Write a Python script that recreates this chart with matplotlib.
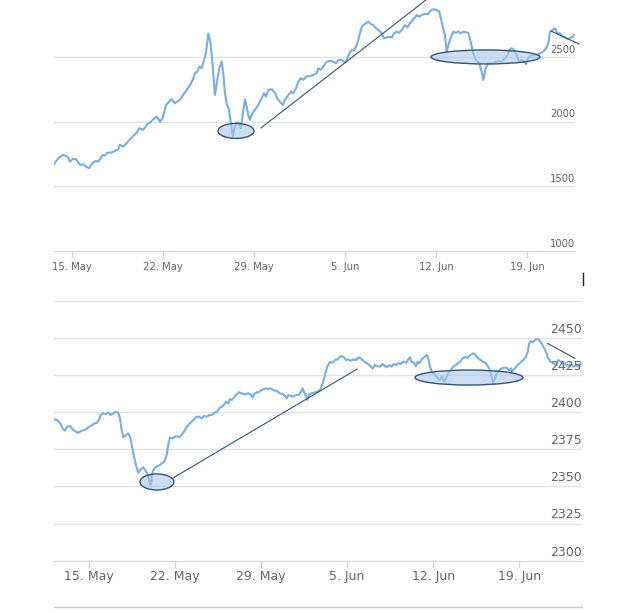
import matplotlib
matplotlib.use("Agg")
import matplotlib.pyplot as plt
import matplotlib.dates as mdates
import matplotlib.transforms as mtransforms
from matplotlib.patches import Ellipse
from matplotlib.lines import Line2D
import pandas as pd

# all x values are days counted from 15 May 2017
start = pd.Timestamp("2017-05-15")

# top chart (wide scale)
top_days = [
    -1.36, -1.03, -0.65, -0.34, -0.13, 0.08, 0.33, 0.64, 0.89, 1.10,
    1.35, 1.58, 1.84, 2.04, 2.38, 2.56, 2.74, 3.07, 3.33, 3.58,
    3.71, 3.97, 4.27, 4.48, 4.73, 5.00, 5.20, 5.50, 5.81, 6.02,
    6.27, 6.53, 6.79, 6.99, 7.25, 7.42, 7.69, 7.94, 8.19, 8.32,
    8.58, 8.84, 9.09, 9.30, 9.48, 9.65, 9.81, 9.99, 10.17, 10.32,
    10.50, 10.68, 10.84, 11.01, 11.19, 11.35, 11.53, 11.65, 11.78, 11.91,
    12.09, 12.24, 12.38, 12.50, 12.63, 12.73, 12.88, 13.01, 13.14, 13.32,
    13.45, 13.57, 13.70, 13.88, 14.09, 14.34, 14.60, 14.78, 14.93, 15.11,
    15.37, 15.63, 15.80, 16.01, 16.22, 16.39, 16.65, 16.86, 17.03, 17.24,
    17.42, 17.60, 17.80, 18.01, 18.32, 18.57, 18.83, 18.95, 19.14, 19.34,
    19.60, 19.85, 20.11, 20.32, 20.49, 20.75, 21.01, 21.14, 21.34, 21.52,
    21.70, 21.91, 22.03, 22.16, 22.29, 22.41, 22.60, 22.80, 22.98, 23.18,
    23.39, 23.57, 23.83, 24.00, 24.21, 24.41, 24.60, 24.77, 24.98, 25.16,
    25.37, 25.62, 25.80, 26.00, 26.21, 26.39, 26.52, 26.69, 26.90, 27.16,
    27.41, 27.62, 27.85, 28.06, 28.26, 28.52, 28.69, 28.82, 28.95, 29.13,
    29.33, 29.54, 29.72, 29.90, 30.10, 30.31, 30.48, 30.67, 30.87, 31.08,
    31.33, 31.51, 31.64, 31.82, 32.02, 32.28, 32.54, 32.79, 33.05, 33.25,
    33.44, 33.64, 33.82, 34.00, 34.20, 34.40, 34.59, 34.77, 34.92, 35.02,
    35.18, 35.43, 35.74, 36.00, 36.25, 36.46, 36.63, 36.77, 36.97, 37.15,
    37.33, 37.54, 37.74, 37.92, 38.17, 38.43, 38.61,
]
top_price = [
    1674, 1718, 1743, 1730, 1692, 1712, 1710, 1666, 1671, 1653,
    1641, 1679, 1697, 1692, 1743, 1738, 1761, 1761, 1774, 1787,
    1820, 1807, 1838, 1864, 1889, 1915, 1949, 1936, 1979, 1992,
    2018, 2038, 2000, 2026, 2128, 2146, 2172, 2141, 2161, 2167,
    2205, 2244, 2282, 2321, 2372, 2384, 2423, 2411, 2475, 2526,
    2680, 2603, 2423, 2205, 2321, 2411, 2462, 2372, 2218, 2141,
    2090, 1987, 1884, 1949, 1982, 1992, 1982, 1949, 2051, 2172,
    2115, 2051, 2013, 2064, 2090, 2128, 2180, 2218, 2192, 2244,
    2249, 2218, 2180, 2153, 2128, 2167, 2205, 2230, 2218, 2257,
    2307, 2334, 2321, 2346, 2351, 2359, 2372, 2411, 2398, 2423,
    2462, 2469, 2462, 2449, 2475, 2475, 2454, 2475, 2526, 2552,
    2546, 2590, 2629, 2680, 2726, 2744, 2757, 2770, 2752, 2744,
    2719, 2706, 2680, 2642, 2649, 2654, 2649, 2680, 2693, 2685,
    2706, 2744, 2726, 2757, 2783, 2803, 2821, 2808, 2821, 2829,
    2829, 2860, 2865, 2860, 2847, 2731, 2667, 2539, 2590, 2642,
    2693, 2685, 2693, 2680, 2693, 2688, 2685, 2616, 2526, 2475,
    2449, 2385, 2321, 2411, 2449, 2449, 2454, 2469, 2462, 2480,
    2500, 2552, 2565, 2552, 2513, 2462, 2475, 2462, 2444, 2475,
    2500, 2513, 2513, 2526, 2539, 2565, 2603, 2693, 2706, 2719,
    2680, 2680, 2654, 2649, 2634, 2649, 2667,
]
top_ticks = [1000, 1500, 2000, 2500]

# bottom chart (zoomed scale)
bottom_days = [
    -2.87, -2.61, -2.39, -2.17, -1.98, -1.79, -1.57, -1.35, -1.08, -0.90,
    -0.62, -0.35, -0.08, 0.20, 0.46, 0.65, 0.81, 0.93, 1.14, 1.36,
    1.55, 1.74, 1.95, 2.17, 2.36, 2.50, 2.64, 2.77, 2.99, 3.18,
    3.37, 3.58, 3.80, 3.99, 4.19, 4.40, 4.59, 4.76, 4.89, 5.00,
    5.16, 5.35, 5.54, 5.76, 5.98, 6.16, 6.30, 6.43, 6.57, 6.79,
    7.06, 7.33, 7.52, 7.71, 7.93, 8.20,
    8.47, 8.75, 8.96, 9.15, 9.34, 9.56, 9.77, 9.97, 10.24, 10.42,
    10.59, 10.78, 10.97, 11.13, 11.32, 11.46, 11.60, 11.78, 12.00, 12.21,
    12.41, 12.68, 12.95, 13.14, 13.31, 13.41, 13.63, 13.84, 14.04, 14.23,
    14.39, 14.58, 14.77, 14.98, 15.26, 15.53, 15.75, 15.94, 16.07, 16.21,
    16.40, 16.61, 16.83, 17.02, 17.21, 17.38, 17.48, 17.65, 17.75, 17.92,
    18.11, 18.38, 18.57, 18.79,
    19.01, 19.19, 19.38, 19.60, 19.82, 20.01, 20.20, 20.36, 20.55, 20.74,
    20.90, 21.09, 21.29, 21.50, 21.72, 21.91, 22.10, 22.31, 22.53, 22.72,
    22.92, 23.08, 23.27, 23.45, 23.67, 23.89, 24.08, 24.22, 24.43, 24.63,
    24.81, 24.98, 25.16, 25.36, 25.57, 25.79, 25.98, 26.12, 26.25, 26.44,
    26.60, 26.74, 26.87, 27.07, 27.26, 27.48, 27.61, 27.74, 27.96, 28.15,
    28.34, 28.50, 28.70, 28.88, 29.05, 29.23, 29.43,
    29.64, 29.92, 30.19, 30.41, 30.59, 30.78, 30.94, 31.14, 31.33, 31.49,
    31.68, 31.87, 32.08, 32.30, 32.49, 32.63, 32.77, 32.90, 33.04, 33.18,
    33.39, 33.58, 33.85, 34.04, 34.20, 34.34, 34.42, 34.53, 34.75, 34.93,
    35.13, 35.34, 35.56, 35.70, 35.83, 35.94, 36.11, 36.30, 36.48, 36.64,
    36.84, 37.03, 37.19, 37.38, 37.57, 37.79, 38.01, 38.19, 38.39, 38.60,
    38.82, 39.01, 39.20, 39.41, 39.63, 39.82, 40.02,
]
bottom_price = [
    2395.2, 2394.7, 2392.9, 2389.1, 2387.5, 2390.2, 2390.7, 2388.4, 2386.8, 2386.1,
    2387.5, 2388.0, 2389.8, 2391.1, 2392.5, 2392.9, 2395.2, 2398.1, 2399.2, 2398.7,
    2399.6, 2398.1, 2399.2, 2400.1, 2399.6, 2395.8, 2388.0, 2383.0, 2384.6, 2385.7,
    2382.4, 2372.3, 2364.4, 2359.2, 2361.5, 2362.9, 2360.6, 2357.7, 2354.3, 2350.3,
    2359.9, 2362.9, 2363.7, 2364.4, 2366.0, 2367.3, 2371.1, 2377.9, 2383.0, 2382.4,
    2383.9, 2383.0, 2384.6, 2386.8, 2390.2, 2392.5,
    2394.7, 2396.9, 2396.9, 2395.8, 2397.4, 2396.9, 2398.1, 2398.1, 2399.9, 2400.3,
    2402.6, 2403.6, 2404.8, 2407.0, 2405.9, 2408.8, 2408.2, 2409.7, 2412.0, 2413.3,
    2412.7, 2412.0, 2412.7, 2412.0, 2409.7, 2412.0, 2413.3, 2413.7, 2414.9, 2415.6,
    2416.0, 2415.6, 2416.0, 2414.9, 2414.2, 2412.7, 2412.0, 2411.0, 2409.3, 2411.5,
    2411.0, 2410.4, 2411.5, 2411.5, 2413.3, 2416.0, 2413.7, 2411.0, 2408.2, 2412.0,
    2412.7, 2413.3, 2413.7, 2414.9,
    2419.4, 2425.0, 2430.6, 2433.9, 2433.3, 2435.1, 2435.5, 2436.9, 2437.8, 2436.9,
    2435.1, 2435.5, 2434.6, 2435.5, 2435.1, 2436.9, 2436.2, 2434.6, 2433.3, 2432.4,
    2430.6, 2429.5, 2431.7, 2431.0, 2430.6, 2432.4, 2431.0, 2430.2, 2431.7, 2430.6,
    2432.4, 2431.7, 2432.9, 2432.4, 2433.9, 2433.3, 2435.5, 2436.9, 2433.9, 2433.3,
    2431.0, 2433.9, 2432.9, 2435.5, 2436.9, 2438.4, 2436.2, 2430.6, 2426.1, 2425.0,
    2423.4, 2421.6, 2423.8, 2420.5, 2422.8, 2426.1, 2428.3,
    2430.6, 2432.2, 2433.9, 2436.2, 2437.3, 2436.2, 2438.0, 2438.9, 2439.6, 2438.0,
    2436.2, 2435.1, 2433.9, 2432.9, 2430.6, 2428.3, 2423.8, 2419.4, 2422.8, 2426.1,
    2428.3, 2429.5, 2429.9, 2429.5, 2428.3, 2429.5, 2427.2, 2428.3, 2430.6, 2432.2,
    2433.5, 2435.1, 2437.3, 2440.7, 2446.3, 2447.9, 2447.0, 2448.5, 2449.2, 2448.5,
    2446.3, 2443.3, 2440.7, 2436.2, 2433.9, 2432.9, 2431.7, 2435.1, 2433.9, 2432.9,
    2432.2, 2431.2, 2432.2, 2430.6, 2431.7, 2430.6, 2432.9,
]
bottom_ticks = [2300, 2325, 2350, 2375, 2400, 2425, 2450]

# hand drawn marks: (days, price) pairs, ellipses as (day, price, width days, height)
top_trend = ([14.55, 28.0], [1951, 2997])
top_trend_end = ([36.84, 39.0], [2698, 2598])
top_circles = [(12.63, 1928, 2.77, 116), (31.81, 2498, 8.38, 108)]
bottom_trend = ([6.82, 21.81], [2355.7, 2429.0])
bottom_trend_end = ([37.33, 39.55], [2446.3, 2436.2])
bottom_circles = [(5.51, 2353.0, 2.77, 10.8), (30.92, 2423.3, 8.79, 10.1)]

line_color = "#78aee0"
grid_color = "#e3e3e3"
axis_color = "#ccd6eb"
label_color = "#666666"
mark_edge = "#34557f"
mark_fill = (0.68, 0.79, 0.92, 0.6)


def to_dates(days):
    return start + pd.to_timedelta(days, unit="D")


def day_num(d):
    return mdates.date2num(start + pd.Timedelta(days=d))


def draw_panel(ax, days, price, ticks, extra_grid, xlim, ylim, fs, pad,
               trend, trend_end, circles):
    ax.plot(to_dates(days), price, color=line_color, lw=1.5, zorder=3)
    for t in ticks[1:] + extra_grid:
        ax.axhline(t, color=grid_color, lw=1, zorder=1)
    ax.set_xlim(day_num(xlim[0]), day_num(xlim[1]))
    ax.set_ylim(*ylim)
    ax.set_yticks([])
    week_ticks = pd.date_range("2017-05-15", periods=6, freq="7D")
    ax.set_xticks(mdates.date2num(week_ticks))
    ax.xaxis.set_major_formatter(mdates.DateFormatter("%-d. %b"))
    ax.tick_params(axis="x", length=5, width=1, color=axis_color,
                   labelsize=fs, labelcolor=label_color, pad=pad)
    for s in ["top", "left", "right"]:
        ax.spines[s].set_visible(False)
    ax.spines["bottom"].set_color(axis_color)
    trans = mtransforms.blended_transform_factory(ax.transAxes, ax.transData)
    for t in ticks:
        ax.annotate(str(t), xy=(1, t), xycoords=trans, xytext=(0, 1.5),
                    textcoords="offset points", ha="right", va="bottom",
                    fontsize=fs, color=label_color, zorder=5)
    for cx, cy, w, h in circles:
        ax.add_patch(Ellipse((day_num(cx), cy), w, h, facecolor=mark_fill,
                             edgecolor=mark_edge, lw=1, zorder=4))
    ax.plot([day_num(d) for d in trend[0]], trend[1], color=mark_edge,
            lw=0.8, zorder=4)
    ax.plot([day_num(d) for d in trend_end[0]], trend_end[1], color=mark_edge,
            lw=0.8, zorder=4, clip_on=False)


fig = plt.figure(figsize=(6.4, 6.13), dpi=100)
fig.patch.set_facecolor("white")

ax1 = fig.add_axes([0.0844, 0.5900, 0.8141, 0.4100])
draw_panel(ax1, top_days, top_price, top_ticks, [], (-1.36, 38.69),
           (1000, 2937), 7.2, 2.5, top_trend, top_trend_end, top_circles)

ax2 = fig.add_axes([0.0844, 0.0853, 0.8245, 0.4241])
draw_panel(ax2, bottom_days, bottom_price, bottom_ticks, [2475], (-2.87, 40.10),
           (2300, 2475), 9.0, 1.5, bottom_trend, bottom_trend_end, bottom_circles)

# bottom border and the small cursor mark between the panels
fig.add_artist(Line2D([0.0844, 0.909], [0.0103, 0.0103], color="#c8c8c8", lw=1))
fig.add_artist(Line2D([0.911, 0.911], [0.5546, 0.535], color="#222222", lw=1))

fig.savefig("out.png", dpi=100, facecolor="white")
